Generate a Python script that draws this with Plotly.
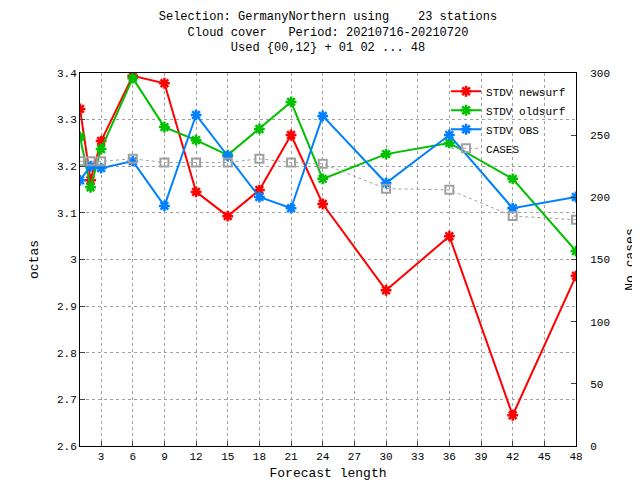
import plotly.graph_objects as go

steps = [1, 2, 3, 6, 9, 12, 15, 18, 21, 24, 30, 36, 42, 48]
newsurf = [3.323, 3.17, 3.254, 3.394, 3.378, 3.145, 3.093, 3.149, 3.267, 3.119, 2.934, 3.05, 2.666, 2.965]
oldsurf = [3.263, 3.155, 3.237, 3.389, 3.284, 3.256, 3.224, 3.28, 3.338, 3.173, 3.226, 3.25, 3.173, 3.018]
obs = [3.17, 3.2, 3.196, 3.211, 3.115, 3.31, 3.222, 3.134, 3.11, 3.308, 3.164, 3.267, 3.11, 3.134]
cases = [229, 229, 229, 231, 228, 228, 228, 231, 228, 227, 207, 206, 185, 182]

fnt = dict(family="Liberation Mono", size=11, color="black")
fig = go.Figure()
for name, vals, col in [("STDV newsurf", newsurf, "#ff0000"),
                        ("STDV oldsurf", oldsurf, "#00c000"),
                        ("STDV OBS", obs, "#0080ff")]:
    fig.add_trace(go.Scatter(x=steps, y=vals, name=name, mode="lines+markers",
                             line=dict(color=col, width=2),
                             marker=dict(symbol="asterisk-open", size=9,
                                         line=dict(color=col, width=2.5))))
fig.add_trace(go.Scatter(x=steps, y=cases, name="CASES", yaxis="y2", mode="lines+markers",
                         line=dict(color="#a0a0a0", width=1, dash="dot"),
                         marker=dict(symbol="square-open", size=8,
                                     line=dict(color="#a0a0a0", width=2))))

fig.update_layout(
    width=640, height=480, font=fnt, plot_bgcolor="white", paper_bgcolor="white",
    margin=dict(l=72, r=72, t=65, b=42),
    title=dict(text="Selection: GermanyNorthern using    23 stations<br>Cloud cover   Period: 20210716-20210720<br>Used {00,12} + 01 02 ... 48",
               x=0.5, y=0.975, yanchor="top", yref="container", font=dict(size=12)),
    xaxis=dict(title=dict(text="Forecast length", standoff=5), range=[1, 48],
               tickvals=list(range(3, 49, 3)), showgrid=True, gridcolor="#a0a0a0",
               griddash="dot", showline=True, linecolor="black", mirror=True,
               ticks="inside", zeroline=False),
    yaxis=dict(title="octas", range=[2.6, 3.4], dtick=0.1, showgrid=True,
               gridcolor="#a0a0a0", griddash="dot", showline=True, linecolor="black",
               mirror=True, ticks="inside", zeroline=False),
    yaxis2=dict(title="No cases", overlaying="y", side="right", range=[0, 300],
                dtick=50, showgrid=False, ticks="inside", zeroline=False,
                tickprefix="  "),
    legend=dict(x=0.99, y=0.99, xanchor="right", yanchor="top", bgcolor="rgba(0,0,0,0)",
                tracegroupgap=0, font=dict(size=11)),
)
fig.write_html("out.html")
